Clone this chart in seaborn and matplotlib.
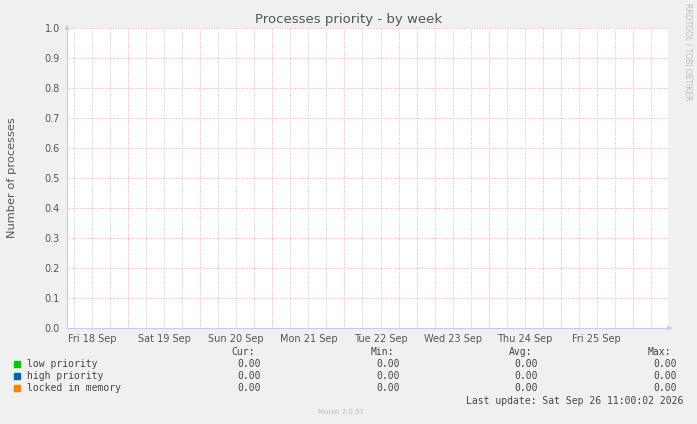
import numpy as np
import pandas as pd
import matplotlib
matplotlib.use("Agg")
import matplotlib.pyplot as plt
import seaborn as sns

# hours counted from Fri 18 Sep 00:00
day_labels = ["Fri 18 Sep", "Sat 19 Sep", "Sun 20 Sep", "Mon 21 Sep",
              "Tue 22 Sep", "Wed 23 Sep", "Thu 24 Sep", "Fri 25 Sep"]
series_names = ["low priority", "high priority", "locked in memory"]
series_colors = ["#00CC00", "#0066B3", "#FF8000"]
cur_vals = [0.00, 0.00, 0.00]
min_vals = [0.00, 0.00, 0.00]
avg_vals = [0.00, 0.00, 0.00]
max_vals = [0.00, 0.00, 0.00]
# no samples were drawn in the graph area (unknown values)
sample_hours = [3.67, 203.67]
sample_vals = [np.nan, np.nan]
x_start, x_end = 3.67, 203.67

sns.set_theme(style="white")
plt.rcParams["font.family"] = ["DejaVu Sans"]

W, H = 697, 424
fig = plt.figure(figsize=(W / 100, H / 100), dpi=100, facecolor="#F0F0F0")
ax = fig.add_axes([67 / W, (H - 328) / H, 601 / W, 300 / H])
ax.set_facecolor("white")

df = pd.DataFrame({"hour": sample_hours * 3,
                   "value": sample_vals * 3,
                   "series": [s for s in series_names for _ in sample_hours]})
sns.lineplot(data=df, x="hour", y="value", hue="series",
             palette=series_colors, ax=ax, legend=False)

ax.set_xlim(x_start, x_end)
ax.set_ylim(0, 1.0)

# grid
grid_red = "#F0A8A8"
grid_gray = "#C4C4C4"
dots = (0, (1, 1.6))
for h in range(6, 204, 6):
    if h % 24 == 0:
        ax.axvline(h, color=grid_red, lw=0.7, ls=dots, zorder=2)
    else:
        ax.axvline(h, color=grid_gray, lw=0.7, ls=dots, zorder=1)
for y in np.arange(0.1, 1.01, 0.1):
    ax.axhline(y, color=grid_red, lw=0.7, ls=dots, zorder=2)

ax.set_xticks([12 + 24 * i for i in range(len(day_labels))])
ax.set_xticklabels(day_labels)
ax.set_yticks(np.arange(0, 1.01, 0.1))
ax.set_yticklabels([f"{v:.1f}" for v in np.arange(0, 1.01, 0.1)])
ax.tick_params(axis="x", length=0, pad=4, labelsize=7, labelcolor="#555555")
ax.tick_params(axis="y", length=2, width=0.8, color="#C8C8EE", pad=3,
               labelsize=7, labelcolor="#555555")
ax.set_xlabel("")
ax.set_ylabel("Number of processes", fontsize=8.2, color="#555555", labelpad=20)

for s in ["top", "right"]:
    ax.spines[s].set_visible(False)
for s in ["left", "bottom"]:
    ax.spines[s].set_color("#C8C8F0")
    ax.spines[s].set_linewidth(0.8)
    ax.spines[s].set_zorder(3)
# axis arrows
ax.annotate("", xy=(67 / W, (H - 22) / H), xytext=(67 / W, (H - 29) / H),
            xycoords="figure fraction",
            arrowprops=dict(arrowstyle="-|>", color="#C8C8F0", lw=0.8, mutation_scale=6))
ax.annotate("", xy=(675 / W, (H - 328) / H), xytext=(667 / W, (H - 328) / H),
            xycoords="figure fraction",
            arrowprops=dict(arrowstyle="-|>", color="#C8C8F0", lw=0.8, mutation_scale=6))

def px(x, y):
    return x / W, (H - y) / H

fig.text(*px(349, 19), "Processes priority - by week", ha="center", va="center",
         fontsize=9.5, color="#555555")
fig.text(*px(688, 52), "RRDTOOL / TOBI OETIKER", ha="center", va="center",
         rotation=-90, fontsize=5.5, color="#BBBBBB")

mono = dict(family="DejaVu Sans Mono", fontsize=7, color="#444444", va="center")
fig.text(*px(255, 352), "Cur:", ha="right", **mono)
fig.text(*px(394, 352), "Min:", ha="right", **mono)
fig.text(*px(532, 352), "Avg:", ha="right", **mono)
fig.text(*px(671, 352), "Max:", ha="right", **mono)
for i, name in enumerate(series_names):
    y = 364 + 12 * i
    fig.patches.append(plt.Rectangle(px(14, y + 3), 6 / W, 6 / H,
                                     transform=fig.transFigure,
                                     color=series_colors[i], figure=fig))
    fig.text(*px(27, y), name, ha="left", **mono)
    fig.text(*px(261, y), f"{cur_vals[i]:.2f}", ha="right", **mono)
    fig.text(*px(400, y), f"{min_vals[i]:.2f}", ha="right", **mono)
    fig.text(*px(538, y), f"{avg_vals[i]:.2f}", ha="right", **mono)
    fig.text(*px(677, y), f"{max_vals[i]:.2f}", ha="right", **mono)
fig.text(*px(683, 401), "Last update: Sat Sep 26 11:00:02 2026", ha="right", **mono)
fig.text(*px(341, 412), "Munin 2.0.57", ha="center", va="center",
         fontsize=5, color="#BBBBBB")

fig.savefig("out.png", dpi=100, facecolor=fig.get_facecolor())
